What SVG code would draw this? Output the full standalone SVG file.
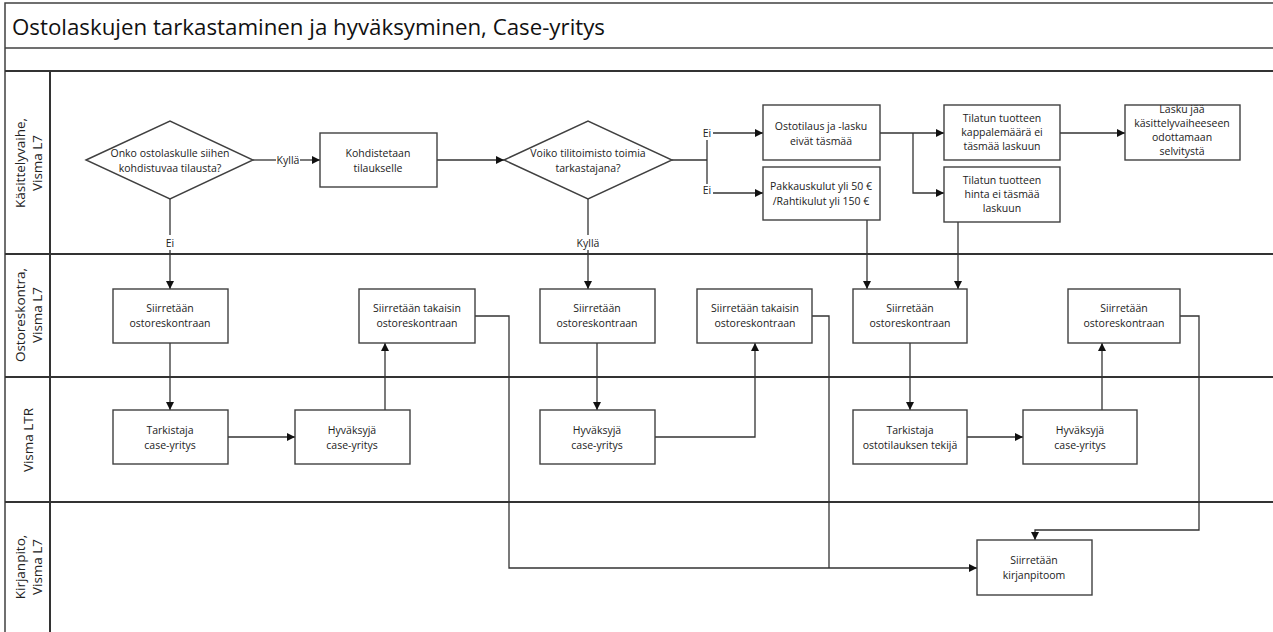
<svg xmlns="http://www.w3.org/2000/svg" width="1273" height="632" viewBox="0 0 1273 632">
<style>
.frame{fill:none;stroke:#404040;stroke-width:1.5}
.lane{fill:none;stroke:#333;stroke-width:2}
.box{fill:#fff;stroke:#404040;stroke-width:1.4}
.t{font-family:"Open Sans","Liberation Sans",sans-serif;font-size:10.5px;fill:#222;text-anchor:middle}
.lbl{font-family:"Open Sans","Liberation Sans",sans-serif;font-size:10.5px;fill:#222;text-anchor:middle}
.lt{font-family:"Open Sans","Liberation Sans",sans-serif;font-size:13.5px;fill:#222;text-anchor:middle}
.title{font-family:"Open Sans","Liberation Sans",sans-serif;font-size:21px;fill:#111}
.c{fill:none;stroke:#333;stroke-width:1.3}
</style>
<defs>
<marker id="ah" viewBox="0 0 10 10" refX="10" refY="5" markerWidth="8" markerHeight="8" markerUnits="userSpaceOnUse" orient="auto">
<path d="M0,0 L10,5 L0,10 Z" fill="#111"/>
</marker>
</defs>
<rect width="1273" height="632" fill="#fff"/>
<g id="pool">
<rect class="frame" x="5" y="3" width="1275" height="640"/>
<line class="frame" x1="5" y1="48" x2="1273" y2="48"/>
<line class="lane" x1="5" y1="71" x2="1273" y2="71"/>
<line class="lane" x1="50" y1="71" x2="50" y2="632"/>
<line class="lane" x1="5" y1="254" x2="1273" y2="254"/>
<line class="lane" x1="5" y1="377" x2="1273" y2="377"/>
<line class="lane" x1="5" y1="502" x2="1273" y2="502"/>
<text class="title" x="12" y="35" textLength="593" lengthAdjust="spacingAndGlyphs">Ostolaskujen tarkastaminen ja hyväksyminen, Case-yritys</text>
<text class="lt" transform="translate(25,163) rotate(-90)"><tspan x="0" y="0">Käsittelyvaihe,</tspan><tspan x="0" y="17">Visma L7</tspan></text>
<text class="lt" transform="translate(25,315) rotate(-90)"><tspan x="0" y="0">Ostoreskontra,</tspan><tspan x="0" y="17">Visma L7</tspan></text>
<text class="lt" transform="translate(33,440) rotate(-90)">Visma LTR</text>
<text class="lt" transform="translate(25,567) rotate(-90)"><tspan x="0" y="0">Kirjanpito,</tspan><tspan x="0" y="17">Visma L7</tspan></text>
</g>
<g id="connectors">
<line class="c" x1="253" y1="160" x2="276" y2="160"/>
<line class="c" x1="300" y1="160" x2="320" y2="160" marker-end="url(#ah)"/>
<line class="c" x1="437" y1="160" x2="504" y2="160" marker-end="url(#ah)"/>
<polyline class="c" points="672,160 707,160"/>
<line class="c" x1="707" y1="140" x2="707" y2="184"/>
<line class="c" x1="713" y1="133" x2="763" y2="133" marker-end="url(#ah)"/>
<line class="c" x1="713" y1="193" x2="763" y2="193" marker-end="url(#ah)"/>
<line class="c" x1="880" y1="133" x2="944" y2="133" marker-end="url(#ah)"/>
<polyline class="c" points="913,133 913,193 944,193" marker-end="url(#ah)"/>
<line class="c" x1="1060" y1="133" x2="1125" y2="133" marker-end="url(#ah)"/>
<line class="c" x1="170" y1="199" x2="170" y2="235"/>
<line class="c" x1="170" y1="250" x2="170" y2="289" marker-end="url(#ah)"/>
<line class="c" x1="588" y1="199" x2="588" y2="235"/>
<line class="c" x1="588" y1="250" x2="588" y2="289" marker-end="url(#ah)"/>
<line class="c" x1="867" y1="220" x2="867" y2="289" marker-end="url(#ah)"/>
<line class="c" x1="958" y1="222" x2="958" y2="289" marker-end="url(#ah)"/>
<line class="c" x1="170" y1="343" x2="170" y2="410" marker-end="url(#ah)"/>
<line class="c" x1="228" y1="437" x2="295" y2="437" marker-end="url(#ah)"/>
<line class="c" x1="385" y1="410" x2="385" y2="343" marker-end="url(#ah)"/>
<polyline class="c" points="475,316 509,316 509,568 977,568" marker-end="url(#ah)"/>
<line class="c" x1="597" y1="343" x2="597" y2="410" marker-end="url(#ah)"/>
<polyline class="c" points="655,437 755,437 755,343" marker-end="url(#ah)"/>
<polyline class="c" points="812,316 829,316 829,568"/>
<line class="c" x1="910" y1="343" x2="910" y2="410" marker-end="url(#ah)"/>
<line class="c" x1="967" y1="437" x2="1023" y2="437" marker-end="url(#ah)"/>
<line class="c" x1="1102" y1="410" x2="1102" y2="343" marker-end="url(#ah)"/>
<polyline class="c" points="1180,316 1199,316 1199,530 1035,530 1035,540" marker-end="url(#ah)"/>
<text class="lbl" x="288" y="164">Kyllä</text>
<text class="lbl" x="170" y="247">Ei</text>
<text class="lbl" x="588" y="247">Kyllä</text>
<text class="lbl" x="707" y="137">Ei</text>
<text class="lbl" x="707" y="194">Ei</text>
</g>
<g id="d1"><polygon class="box" points="86,160 170,121 253,160 170,199"/><text class="t" x="170" y="157">Onko ostolaskulle siihen<tspan x="170" dy="15">kohdistuvaa tilausta?</tspan></text></g>
<g id="n1"><rect class="box" x="320" y="133" width="117" height="54"/><text class="t" x="378" y="157">Kohdistetaan<tspan x="378" dy="15">tilaukselle</tspan></text></g>
<g id="d2"><polygon class="box" points="504,160 588,121 672,160 588,199"/><text class="t" x="588" y="157">Voiko tilitoimisto toimia<tspan x="588" dy="15">tarkastajana?</tspan></text></g>
<g id="n2"><rect class="box" x="763" y="105" width="117" height="55"/><text class="t" x="821" y="130">Ostotilaus ja -lasku<tspan x="821" dy="15">eivät täsmää</tspan></text></g>
<g id="n3"><rect class="box" x="763" y="167" width="117" height="53"/><text class="t" x="821" y="190">Pakkauskulut yli 50 €<tspan x="821" dy="15">/Rahtikulut yli 150 €</tspan></text></g>
<g id="n4"><rect class="box" x="944" y="105" width="116" height="55"/><text class="t" x="1002" y="122">Tilatun tuotteen<tspan x="1002" dy="14">kappalemäärä ei</tspan><tspan x="1002" dy="14">täsmää laskuun</tspan></text></g>
<g id="n5"><rect class="box" x="944" y="167" width="116" height="55"/><text class="t" x="1002" y="184">Tilatun tuotteen<tspan x="1002" dy="14">hinta ei täsmää</tspan><tspan x="1002" dy="14">laskuun</tspan></text></g>
<g id="n6"><rect class="box" x="1125" y="105" width="115" height="55"/><text class="t" x="1182" y="113">Lasku jää<tspan x="1182" dy="14">käsittelyvaiheeseen</tspan><tspan x="1182" dy="14">odottamaan</tspan><tspan x="1182" dy="14">selvitystä</tspan></text></g>
<g id="a1"><rect class="box" x="113" y="289" width="115" height="54"/><text class="t" x="170" y="312">Siirretään<tspan x="170" dy="15">ostoreskontraan</tspan></text></g>
<g id="a2"><rect class="box" x="359" y="289" width="116" height="54"/><text class="t" x="417" y="312">Siirretään takaisin<tspan x="417" dy="15">ostoreskontraan</tspan></text></g>
<g id="a3"><rect class="box" x="540" y="289" width="115" height="54"/><text class="t" x="597" y="312">Siirretään<tspan x="597" dy="15">ostoreskontraan</tspan></text></g>
<g id="a4"><rect class="box" x="697" y="289" width="115" height="54"/><text class="t" x="755" y="312">Siirretään takaisin<tspan x="755" dy="15">ostoreskontraan</tspan></text></g>
<g id="a5"><rect class="box" x="853" y="289" width="114" height="54"/><text class="t" x="910" y="312">Siirretään<tspan x="910" dy="15">ostoreskontraan</tspan></text></g>
<g id="a6"><rect class="box" x="1068" y="289" width="112" height="54"/><text class="t" x="1124" y="312">Siirretään<tspan x="1124" dy="15">ostoreskontraan</tspan></text></g>
<g id="b1"><rect class="box" x="113" y="410" width="115" height="54"/><text class="t" x="170" y="434">Tarkistaja<tspan x="170" dy="15">case-yritys</tspan></text></g>
<g id="b2"><rect class="box" x="295" y="410" width="115" height="54"/><text class="t" x="352" y="434">Hyväksyjä<tspan x="352" dy="15">case-yritys</tspan></text></g>
<g id="b3"><rect class="box" x="540" y="410" width="115" height="54"/><text class="t" x="597" y="434">Hyväksyjä<tspan x="597" dy="15">case-yritys</tspan></text></g>
<g id="b4"><rect class="box" x="853" y="410" width="114" height="54"/><text class="t" x="910" y="434">Tarkistaja<tspan x="910" dy="15">ostotilauksen tekijä</tspan></text></g>
<g id="b5"><rect class="box" x="1023" y="410" width="114" height="54"/><text class="t" x="1080" y="434">Hyväksyjä<tspan x="1080" dy="15">case-yritys</tspan></text></g>
<g id="c1"><rect class="box" x="977" y="540" width="115" height="55"/><text class="t" x="1034" y="564">Siirretään<tspan x="1034" dy="15">kirjanpitoom</tspan></text></g>
</svg>
